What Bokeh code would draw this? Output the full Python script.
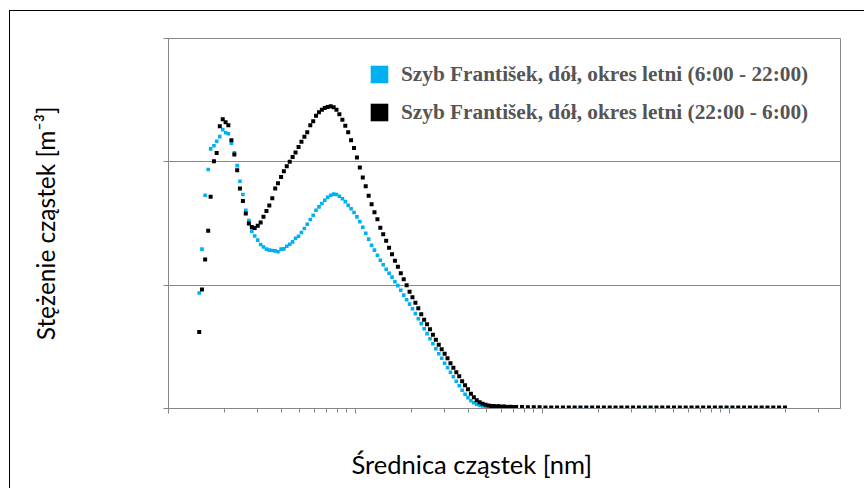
from bokeh.plotting import figure
from bokeh.models import (Range1d, FixedTicker, CustomJSTickFormatter, Legend,
                          LegendItem, Title, ColumnDataSource)
from bokeh.embed import file_html
from bokeh.resources import INLINE

# --- data -------------------------------------------------------------
# SMPS channel mid-points [nm]
smps_d = [14.6, 15.1, 15.7, 16.3, 16.8, 17.5, 18.1, 18.8, 19.5, 20.2,
          20.9, 21.7, 22.5, 23.3, 24.1, 25.0, 25.9, 26.9, 27.9, 28.9,
          30.0, 31.1, 32.2, 33.4, 34.6, 35.9, 37.2, 38.5, 40.0, 41.4,
          42.9, 44.5, 46.1, 47.8, 49.6, 51.4, 53.3, 55.2, 57.3, 59.4,
          61.5, 63.8, 66.1, 68.5, 71.0, 73.7, 76.4, 79.1, 82.0, 85.1,
          88.2, 91.4, 94.7, 98.2, 101.8, 105.5, 109.4, 113.4, 117.6, 121.9,
          126.3, 131.0, 135.8, 140.7, 145.9, 151.2, 156.8, 162.5, 168.5, 174.7,
          181.1, 187.7, 194.6, 201.7, 209.1, 216.7, 224.7, 232.9, 241.4, 250.3,
          259.5, 269.0, 278.8, 289.0, 299.6, 310.6, 322.0, 333.8, 346.0, 358.7,
          371.8, 385.4, 399.5, 414.2, 429.4, 445.1, 461.4, 478.3, 495.8, 514.0,
          532.8, 552.3, 572.5, 593.5, 615.3, 637.8, 661.2, 685.4, 710.5]

day_smps = [0.937, 1.292, 1.729, 1.938, 2.105, 2.131, 2.167, 2.204, 2.261, 2.236,
            2.228, 2.151, 2.074, 1.969, 1.843, 1.735, 1.608, 1.523, 1.438, 1.399,
            1.365, 1.330, 1.310, 1.292, 1.284, 1.281, 1.278, 1.271, 1.292, 1.294,
            1.316, 1.332, 1.351, 1.381, 1.397, 1.427, 1.459, 1.494, 1.532, 1.567,
            1.608, 1.635, 1.662, 1.689, 1.713, 1.729, 1.738, 1.735, 1.721, 1.701,
            1.677, 1.648, 1.620, 1.589, 1.554, 1.515, 1.470, 1.421, 1.373, 1.324,
            1.284, 1.243, 1.202, 1.166, 1.129, 1.097, 1.065, 1.028, 0.996, 0.959,
            0.919, 0.882, 0.846, 0.809, 0.769, 0.728, 0.688, 0.647, 0.607, 0.566,
            0.525, 0.485, 0.444, 0.408, 0.367, 0.331, 0.294, 0.258, 0.221, 0.185,
            0.148, 0.116, 0.088, 0.063, 0.047, 0.035, 0.027, 0.021, 0.017, 0.014,
            0.011, 0.010, 0.009, 0.008, 0.007, 0.006, 0.006, 0.006, 0.005]

night_smps = [0.621, 0.965, 1.208, 1.442, 1.716, 2.005, 2.072, 2.289, 2.346, 2.321,
              2.297, 2.175, 2.059, 1.932, 1.784, 1.683, 1.581, 1.500, 1.472, 1.464,
              1.482, 1.508, 1.554, 1.602, 1.646, 1.705, 1.784, 1.827, 1.878, 1.924,
              1.965, 2.000, 2.040, 2.076, 2.121, 2.162, 2.204, 2.240, 2.297, 2.330,
              2.374, 2.403, 2.423, 2.437, 2.445, 2.451, 2.443, 2.423, 2.386, 2.342,
              2.293, 2.240, 2.175, 2.113, 2.035, 1.954, 1.873, 1.802, 1.725, 1.657,
              1.592, 1.535, 1.466, 1.413, 1.361, 1.304, 1.251, 1.198, 1.150, 1.097,
              1.048, 1.000, 0.947, 0.902, 0.858, 0.813, 0.765, 0.720, 0.684, 0.643,
              0.598, 0.558, 0.517, 0.481, 0.444, 0.408, 0.367, 0.331, 0.294, 0.262,
              0.221, 0.189, 0.156, 0.120, 0.092, 0.067, 0.051, 0.039, 0.031, 0.025,
              0.021, 0.019, 0.016, 0.015, 0.014, 0.013, 0.012, 0.012, 0.011]

# APS channel mid-points [nm]
aps_d = [542, 583, 626, 673, 723, 777, 835, 898, 965, 1037,
         1114, 1197, 1286, 1382, 1486, 1596, 1715, 1843, 1981, 2129,
         2288, 2458, 2642, 2839, 3051, 3278, 3523, 3786, 4068, 4371,
         4698, 5048, 5425, 5829, 6264, 6732, 7234, 7774, 8354, 8977,
         9647, 10370, 11140, 11970, 12860, 13820, 14860, 15960, 17150, 18430,
         19810]

day_aps = [0.016, 0.014, 0.012, 0.010, 0.009, 0.008, 0.007, 0.007, 0.006, 0.006,
           0.006, 0.005, 0.005, 0.005, 0.005, 0.005, 0.005, 0.005, 0.005, 0.005,
           0.005, 0.005, 0.005, 0.005, 0.005, 0.005, 0.005, 0.005, 0.005, 0.005,
           0.005, 0.005, 0.005, 0.005, 0.005, 0.005, 0.005, 0.005, 0.005, 0.005,
           0.005, 0.005, 0.005, 0.005, 0.005, 0.005, 0.005, 0.005, 0.005, 0.005,
           0.005]

night_aps = [0.020, 0.018, 0.016, 0.014, 0.013, 0.012, 0.011, 0.010, 0.010, 0.009,
             0.009, 0.009, 0.008, 0.008, 0.008, 0.008, 0.008, 0.008, 0.008, 0.008,
             0.008, 0.008, 0.008, 0.008, 0.008, 0.008, 0.008, 0.008, 0.008, 0.008,
             0.008, 0.008, 0.008, 0.008, 0.008, 0.008, 0.008, 0.008, 0.008, 0.008,
             0.008, 0.008, 0.008, 0.008, 0.008, 0.008, 0.008, 0.008, 0.008, 0.008,
             0.008]

series_labels = ["Szyb František, dół, okres letni (6:00 - 22:00)",
                 "Szyb František, dół, okres letni (22:00 - 6:00)"]
series_colors = ["#00B0F0", "#000000"]

x_major_ticks = [10, 100, 1000, 10000]
x_minor_ticks = [20, 30, 40, 50, 60, 70, 80, 90,
                 200, 300, 400, 500, 600, 700, 800, 900,
                 2000, 3000, 4000, 5000, 6000, 7000, 8000, 9000,
                 20000, 30000]
y_ticks = [0, 1, 2, 3]

x_title = "Średnica cząstek [nm]"
y_title = "Stężenie cząstek [m⁻³]"

# --- figure -----------------------------------------------------------
p = figure(width=855, height=478, x_axis_type="log",
           x_range=Range1d(10, 39234), y_range=Range1d(0, 3),
           output_backend="svg", toolbar_location=None,
           min_border_left=158, min_border_right=25,
           min_border_top=27, min_border_bottom=81)
p.margin = (10, 0, 0, 9)
p.styles = {"border-left": "1px solid #000000", "border-top": "1px solid #000000"}

p.outline_line_color = "#868686"
p.outline_line_width = 1
p.xgrid.grid_line_color = None
p.ygrid.grid_line_color = "#868686"
p.ygrid.ticker = FixedTicker(ticks=[1, 2])

empty = CustomJSTickFormatter(code="return ''")

xa = p.xaxis[0]
xa.ticker = FixedTicker(ticks=x_major_ticks, minor_ticks=x_minor_ticks)
xa.formatter = empty
xa.axis_line_color = "#868686"
xa.major_tick_line_color = "#868686"
xa.minor_tick_line_color = "#868686"
xa.major_tick_in = 0
xa.major_tick_out = 5
xa.minor_tick_in = 0
xa.minor_tick_out = 4

ya = p.yaxis[0]
ya.ticker = FixedTicker(ticks=y_ticks, minor_ticks=[])
ya.formatter = empty
ya.axis_line_color = "#868686"
ya.major_tick_line_color = "#868686"
ya.major_tick_in = 0
ya.major_tick_out = 5
ya.minor_tick_line_color = None
ya.axis_label = y_title
ya.axis_label_text_font = "Lato"
ya.axis_label_text_font_size = "24.5px"
ya.axis_label_text_font_style = "normal"
ya.axis_label_text_color = "#000000"
ya.axis_label_standoff = 104

src_day = ColumnDataSource(dict(x=smps_d + aps_d, y=day_smps + day_aps))
src_night = ColumnDataSource(dict(x=smps_d + aps_d, y=night_smps + night_aps))

r_day = p.scatter("x", "y", source=src_day, marker="square", size=3.6,
                  fill_color=series_colors[0], line_color=None)
r_night = p.scatter("x", "y", source=src_night, marker="square", size=4,
                    fill_color=series_colors[1], line_color=None)

common = dict(orientation="vertical", glyph_width=44, glyph_height=44,
              padding=0, margin=0, label_standoff=0, border_line_color=None,
              background_fill_alpha=0, label_text_font="Liberation Serif",
              label_text_font_style="bold", label_text_font_size="21.3px",
              label_text_color="#555555")
legend1 = Legend(items=[LegendItem(label=series_labels[0], renderers=[r_day])],
                 location=(189, 312), **common)
legend2 = Legend(items=[LegendItem(label=series_labels[1], renderers=[r_night])],
                 location=(189, 274), **common)
p.add_layout(legend1)
p.add_layout(legend2)

# spacer between the axis and the axis title
spacer = Title(text=" ", standoff=30, text_font_size="1px")
p.add_layout(spacer, "below")
xt = Title(text=x_title, align="left", offset=183, standoff=0,
           text_font="Lato", text_font_size="25.5px", text_font_style="normal",
           text_color="#000000")
p.add_layout(xt, "below")

open("out.html", "w").write(file_html(p, INLINE))
